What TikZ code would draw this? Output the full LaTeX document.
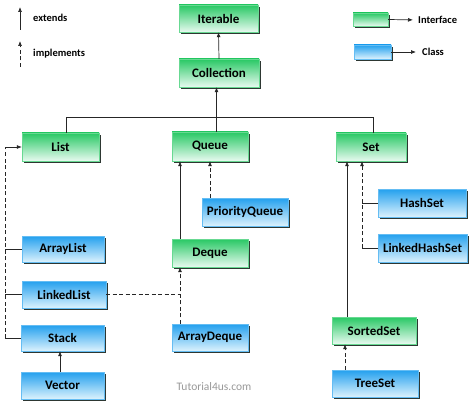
\documentclass[tikz,border=0pt]{standalone}
\usepackage{fontspec}
\setmainfont{Carlito}
\usetikzlibrary{arrows.meta,shadows}
\definecolor{igreen}{RGB}{40,200,100}
\definecolor{ilight}{RGB}{232,250,240}
\definecolor{cblue}{RGB}{35,160,238}
\definecolor{clight}{RGB}{220,242,253}
\definecolor{shad}{RGB}{45,55,50}
\tikzset{
  box/.style={inner sep=0pt, line width=0.4pt, font=\fontsize{13}{15}\selectfont\bfseries,
    drop shadow={shadow xshift=2.2pt, shadow yshift=-2.2pt, fill=shad, opacity=1}},
  iface/.style={box, draw=igreen!70!white, top color=igreen, bottom color=ilight},
  cls/.style={box, draw=cblue!70!white, top color=cblue, bottom color=clight},
  ext/.style={line width=0.7pt, draw=black!85, -{Latex[length=5pt,width=4pt]}},
  impl/.style={ext, dash pattern=on 4pt off 2.5pt},
  plainline/.style={line width=0.7pt, draw=black!85},
  dline/.style={plainline, dash pattern=on 4pt off 2.5pt},
  legtext/.style={anchor=west, inner sep=0pt, font=\fontsize{10.5}{12}\selectfont\bfseries}
}
\begin{document}
\begin{tikzpicture}[x=1pt,y=-1pt]
\fill[white] (0,0) rectangle (474,409);
\useasboundingbox (0,0) rectangle (474,409);

% legend left
\coordinate (e1) at (20,30); \coordinate (e2) at (20,7);
\draw[ext] (e1) -- (e2);
\node[legtext] (extlbl) at (33,18) {extends};
\coordinate (i1) at (20,67); \coordinate (i2) at (20,41);
\draw[impl] (i1) -- (i2);
\node[legtext] (impllbl) at (33,54) {implements};

% legend right
\node[iface, minimum width=35pt, minimum height=13pt] (legI) at (370.5,19.5) {};
\node[legtext] (ilbl) at (418,20) {Interface};
\draw[ext, shorten >=5pt] (legI.east) -- (ilbl.west);
\node[cls, minimum width=37pt, minimum height=14pt] (legC) at (372.5,52) {};
\node[legtext] (clbl) at (422,52) {Class};
\draw[ext, shorten >=6pt] (legC.east) -- (clbl.west);

% nodes
\node[iface, minimum width=79pt, minimum height=27pt] (iterable) at (218.5,18.5) {Iterable};
\node[iface, minimum width=80pt, minimum height=28pt] (collection) at (219,73) {Collection};
\node[iface, minimum width=77pt, minimum height=28pt] (list) at (60.5,147) {List};
\node[iface, minimum width=76pt, minimum height=29pt] (queue) at (210,146.5) {Queue};
\node[iface, minimum width=70pt, minimum height=28pt] (set) at (371,147) {Set};
\node[cls, minimum width=86pt, minimum height=28pt] (pq) at (245,212) {PriorityQueue};
\node[iface, minimum width=76pt, minimum height=28pt] (deque) at (210,253) {Deque};
\node[cls, minimum width=82pt, minimum height=26pt] (arraylist) at (63,249) {ArrayList};
\node[cls, minimum width=84pt, minimum height=27pt] (linkedlist) at (64,294.5) {LinkedList};
\node[cls, minimum width=83pt, minimum height=26pt] (stack) at (62.5,338) {Stack};
\node[cls, minimum width=83pt, minimum height=27pt] (vector) at (62.5,385.5) {Vector};
\node[cls, minimum width=76pt, minimum height=27pt] (arraydeque) at (210,337.5) {ArrayDeque};
\node[cls, minimum width=88pt, minimum height=28pt] (hashset) at (422,203) {HashSet};
\node[cls, minimum width=89pt, minimum height=28pt] (lhs) at (422.5,248) {LinkedHashSet};
\node[iface, minimum width=84pt, minimum height=27pt] (sortedset) at (374,330.5) {SortedSet};
\node[cls, minimum width=86pt, minimum height=27pt] (treeset) at (375,383.5) {TreeSet};

\node[inner sep=0pt, text=black!40, font=\fontsize{11.5}{13}\selectfont] (wm) at (214,387) {Tutorial4us.com};

% Iterable <- Collection
\draw[ext] (collection.north) -- (iterable.south);

% bus
\coordinate (busL) at (66,117);
\coordinate (busC) at (216.5,117);
\coordinate (busR) at (373,117);
\draw[plainline] (busL |- list.north) -- (busL) -- (busR) -- (busR |- set.north);
\draw[plainline] (busC) -- (busC |- queue.north);
\draw[ext] (busC) -- (busC |- collection.south);

% List implementations
\coordinate (lv1) at (5,147);
\coordinate (lv2) at (5,338);
\draw[dline] (lv2) -- (lv1);
\draw[ext] (lv1) -- (list.west);
\draw[plainline] (lv1 |- arraylist.west) -- (arraylist.west);
\draw[plainline] (lv1 |- linkedlist.west) -- (linkedlist.west);
\draw[plainline] (lv2) -- (stack.west);
\coordinate (vx) at (60,0);
\draw[ext] (vx |- vector.north) -- (vx |- stack.south);

% Queue side
\coordinate (qx1) at (180,0);
\coordinate (qx2) at (210,0);
\draw[ext] (qx1 |- deque.north) -- (qx1 |- queue.south);
\draw[impl] (qx2 |- pq.north) -- (qx2 |- queue.south);
\draw[impl] (qx1 |- arraydeque.north) -- (qx1 |- deque.south);
\draw[dline] (linkedlist.east) -- (qx1 |- linkedlist.east);

% Set side
\coordinate (sx1) at (347,0);
\coordinate (sx2) at (362,0);
\draw[ext] (sx1 |- sortedset.north) -- (sx1 |- set.south);
\draw[impl] (sx2 |- lhs.west) -- (sx2 |- set.south);
\draw[plainline] (sx2 |- hashset.west) -- (hashset.west);
\draw[plainline] (sx2 |- lhs.west) -- (lhs.west);
\coordinate (tx) at (345,0);
\draw[impl] (tx |- treeset.north) -- (tx |- sortedset.south);
\end{tikzpicture}
\end{document}
